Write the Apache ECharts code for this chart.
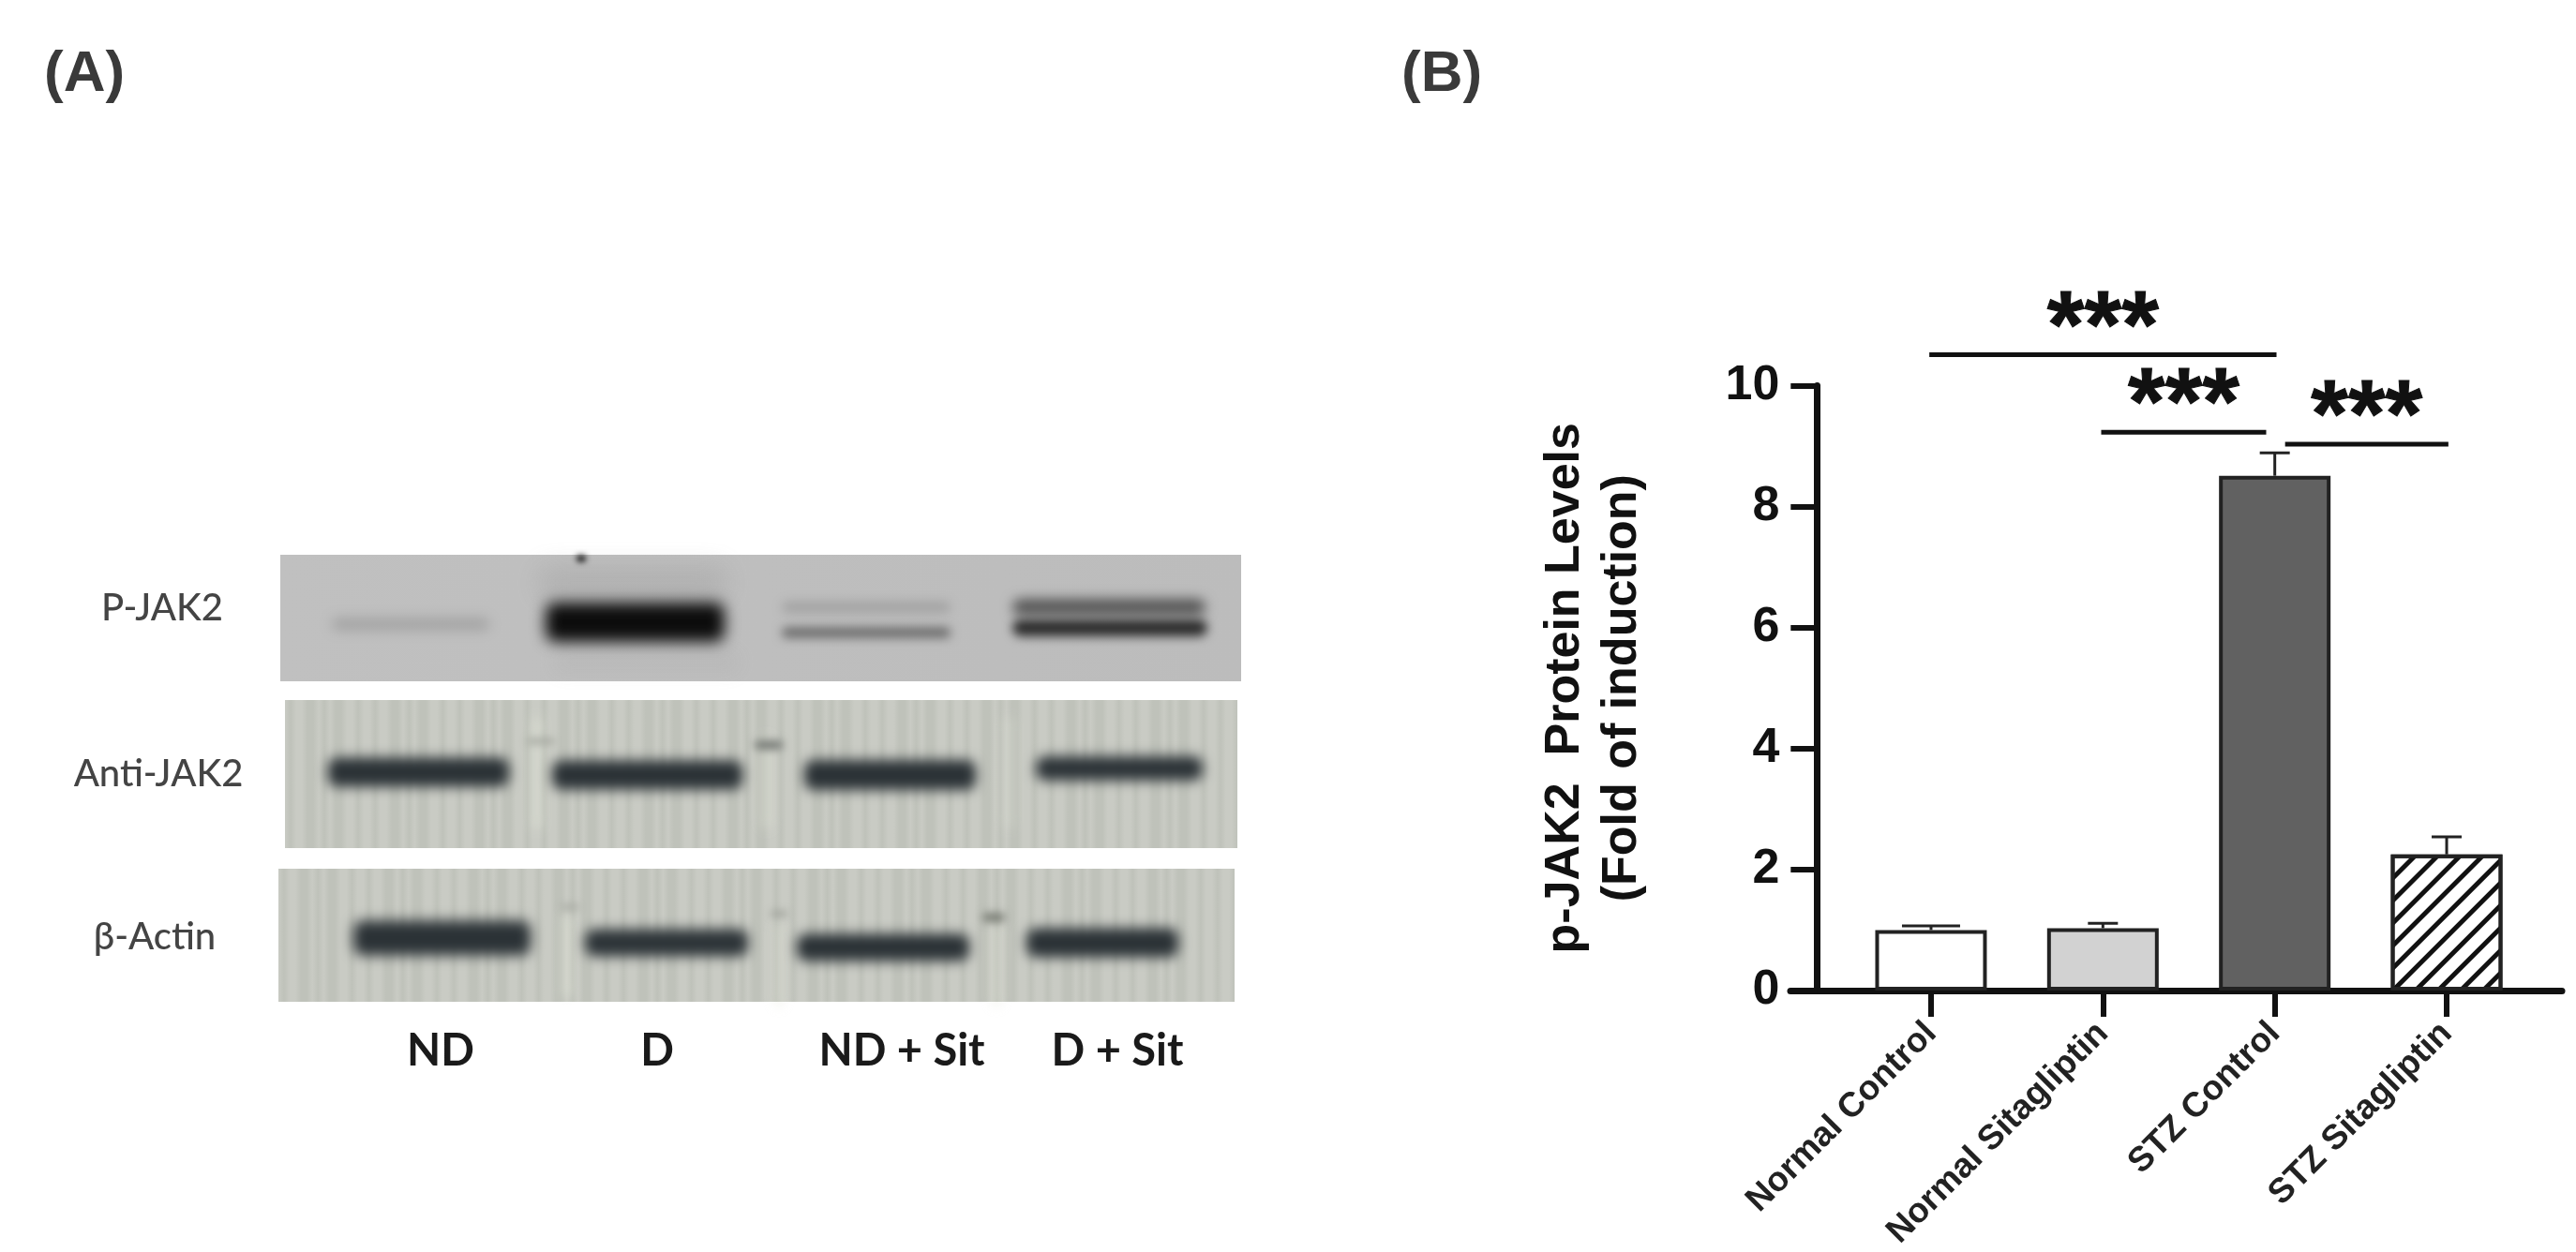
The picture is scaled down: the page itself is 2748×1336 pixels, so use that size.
<!DOCTYPE html>
<html><head><meta charset="utf-8">
<style>html,body{margin:0;padding:0;background:#fff}#c{width:2748px;height:1336px}</style>
<script src="https://cdn.jsdelivr.net/npm/echarts@6/dist/echarts.min.js"></script>
</head><body><div id="c"></div>
<script>
// ---- Panel B data ----
const categories = ['Normal Control','Normal Sitagliptin','STZ Control','STZ Sitagliptin'];
const meanValues = [1.00,1.03,8.51,2.25];
const errorTops  = [1.07,1.11,8.89,2.54];
const yTicks = [0,10];
const barFills = ['#ffffff','#d2d2d2','#616161','#ffffff'];
// significance brackets: from-category, to-category, level
const brackets = [[-0.01,2.01,10.51],[0.99,1.95,9.23],[2.06,3.01,9.03]];
const starText = '***';
const yTitle = 'p-JAK2  Protein Levels\n(Fold of induction)';
// ---- Panel A data ----
const rowLabels = ['P-JAK2','Anti-JAK2','β-Actin'];
const laneLabels = ['ND','D','ND + Sit','D + Sit'];
// membrane: x0, x1, y0, y1, tone A, tone B
const membranes = [
  [299,1324,592,727,'#c0c0c0','#bcbcbc'],
  [304,1320,747,905,'#c9cbc4','#bfc2ba'],
  [297,1317,927,1069,'#c9cbc4','#bfc2ba']
];
// bands: x0, x1, y centre, height, colour, blur
const blotBands = [
  [575,775,622,34,'rgba(130,130,130,0.5)',28],
  [590,790,706,26,'rgba(150,150,150,0.35)',20],
  [354,522,666,12,'#a0a0a0',14],
  [582,773,664,42,'#0c0c0c',16],
  [834,1014,648,12,'#a2a2a2',12],
  [834,1014,675,11,'#686868',11],
  [1080,1286,648,18,'#565656',13],
  [1080,1288,670,18,'#2c2c2c',11],
  [568,578,825,120,'rgba(228,231,218,0.7)',12],
  [812,824,835,100,'rgba(228,231,218,0.6)',12],
  [1070,1082,825,120,'rgba(228,231,218,0.5)',12],
  [350,543,824,31,'#2b3236',13],
  [589,792,827,31,'#2b3236',13],
  [858,1041,827,32,'#2b3236',13],
  [1105,1283,820,26,'#2d3438',13],
  [805,835,795,9,'#6f736f',10],
  [562,592,791,6,'#a5a8a0',9],
  [600,610,1020,90,'rgba(228,231,218,0.7)',12],
  [826,836,1030,90,'rgba(228,231,218,0.6)',12],
  [1058,1068,1030,90,'rgba(228,231,218,0.6)',12],
  [377,566,1001,37,'#2b3236',14],
  [624,798,1006,29,'#2d3438',13],
  [850,1034,1011,29,'#2b3236',13],
  [1095,1257,1006,31,'#2b3236',13],
  [1048,1072,979,9,'#74786f',10],
  [822,840,975,6,'#a0a39b',9],
  [598,618,968,6,'#a9aca4',9],
  [615,625,596,7,'#111111',6]
];
const stripeTones = [0,1,0,0,1,1,0,1,0,1,1,0,0,1,0];

const chart = echarts.init(document.getElementById('c'), null, {renderer:'canvas'});
const FONT = '"Liberation Sans", Arial, sans-serif';

function membraneFill(m, idx){
  const stops = [], n = idx === 0 ? 2 : 170;
  for (let i = 0; i < n; i++){
    stops.push({offset:i/(n-1), color: stripeTones[i % stripeTones.length] ? m[5] : m[4]});
  }
  return new echarts.graphic.LinearGradient(0,0,1,0,stops);
}

chart.setOption({
  animation:false,
  backgroundColor:'#ffffff',
  title:[
    {text:'(A)',left:42,top:44,textStyle:{fontFamily:FONT,fontWeight:'bold',fontSize:62,color:'#3a3a3a'}},
    {text:'(B)',left:1490,top:44,textStyle:{fontFamily:FONT,fontWeight:'bold',fontSize:62,color:'#3a3a3a'}}
  ],
  grid:[
    {left:1968.3,top:411.5,width:733.4,height:645.5},
    {left:1910,top:411.5,width:823,height:645.5},
    {left:0,top:0,width:1400,height:1336}
  ],
  xAxis:[
    {gridIndex:0,type:'category',data:categories,boundaryGap:true,
      axisLine:{show:false},
      axisTick:{show:true,alignWithLabel:true,length:28,lineStyle:{color:'#111',width:6}},
      axisLabel:{rotate:45,interval:0,margin:40,fontFamily:FONT,fontWeight:'bold',fontSize:37,color:'#222'}},
    {gridIndex:0,type:'value',min:-0.5,max:3.5,show:false},
    {gridIndex:1,type:'value',min:0,max:1,
      axisLine:{show:true,onZero:false,lineStyle:{color:'#111',width:7}},
      axisTick:{show:false},axisLabel:{show:false},splitLine:{show:false}},
    {gridIndex:2,type:'value',min:0,max:1400,show:false}
  ],
  yAxis:[
    {gridIndex:0,type:'value',min:yTicks[0],max:yTicks[1],interval:2,offset:30,
      name:yTitle,nameLocation:'middle',nameGap:177,nameRotate:90,nameMoveOverlap:false,
      nameTextStyle:{fontFamily:FONT,fontWeight:'bold',fontSize:52,lineHeight:61,color:'#111'},
      axisLine:{show:true,onZero:false,lineStyle:{color:'#111',width:7}},
      axisTick:{show:true,length:28,lineStyle:{color:'#111',width:6}},
      axisLabel:{margin:40,fontFamily:FONT,fontWeight:'bold',fontSize:52,color:'#111'},
      splitLine:{show:false}},
    {gridIndex:1,type:'value',min:0,max:1,show:false},
    {gridIndex:2,type:'value',min:0,max:1336,inverse:true,show:false}
  ],
  series:[
    {type:'bar',xAxisIndex:0,yAxisIndex:0,barWidth:119,z:2,
      data:meanValues.map((v,i)=>({
        value:v,
        itemStyle:{
          color:barFills[i],borderColor:'#222',borderWidth:4,
          decal: i===3 ? {symbol:'rect',dashArrayX:[1,0],dashArrayY:[5,12],rotation:-Math.PI/4,color:'#111'} : undefined
        }
      }))},
    {type:'custom',xAxisIndex:1,yAxisIndex:0,z:3,clip:false,
      data:meanValues.map((v,i)=>[i,v,errorTops[i]]),
      renderItem(params,api){
        const i=api.value(0);
        const a=api.coord([i,api.value(1)]), b=api.coord([i,api.value(2)]);
        const half = i===0 ? 31 : 16;
        const s={stroke:'#222',lineWidth:3,fill:null};
        return {type:'group',children:[
          {type:'line',shape:{x1:a[0],y1:a[1],x2:b[0],y2:b[1]},style:s},
          {type:'line',shape:{x1:b[0]-half,y1:b[1],x2:b[0]+half,y2:b[1]},style:s}
        ]};
      }},
    {type:'custom',xAxisIndex:1,yAxisIndex:0,z:4,clip:false,
      data:brackets,
      renderItem(params,api){
        const a=api.coord([api.value(0),api.value(2)]), b=api.coord([api.value(1),api.value(2)]);
        return {type:'group',children:[
          {type:'line',shape:{x1:a[0],y1:a[1],x2:b[0],y2:b[1]},style:{stroke:'#111',lineWidth:5,fill:null}},
          {type:'text',x:(a[0]+b[0])/2,y:a[1]-26,style:{text:starText,fill:'#111',stroke:'#111',lineWidth:1,align:'center',verticalAlign:'middle',
            font:'bold 102px "Liberation Sans", Arial, sans-serif'}}
        ]};
      }},
    // Panel A: membranes, bands, labels
    {type:'custom',xAxisIndex:3,yAxisIndex:2,z:1,clip:false,
      data:membranes.map(m=>[m[0],m[1],m[2],m[3]]),
      renderItem(params,api){
        const a=api.coord([api.value(0),api.value(2)]), b=api.coord([api.value(1),api.value(3)]);
        return {type:'rect',shape:{x:a[0],y:a[1],width:b[0]-a[0],height:b[1]-a[1]},
          style:{fill:membraneFill(membranes[params.dataIndex],params.dataIndex)}};
      }},
    {type:'custom',xAxisIndex:3,yAxisIndex:2,z:2,clip:false,
      data:blotBands.map(b=>[b[0],b[1],b[2],b[3]]),
      renderItem(params,api){
        const band=blotBands[params.dataIndex];
        const h=api.value(3);
        const a=api.coord([api.value(0),api.value(2)]), b=api.coord([api.value(1),api.value(2)]);
        const FAR=4000;
        return {type:'rect',shape:{x:a[0]-FAR,y:a[1]-h/2,width:b[0]-a[0],height:h,r:Math.min(h/2,10)},
          style:{fill:band[4],shadowColor:band[4],shadowBlur:band[5],shadowOffsetX:FAR,shadowOffsetY:0}};
      }},
    {type:'custom',xAxisIndex:3,yAxisIndex:2,z:3,clip:false,
      data:[[173,649],[169,826],[165,1000]],
      renderItem(params,api){
        const p=api.coord([api.value(0),api.value(1)]);
        return {type:'text',x:p[0],y:p[1],style:{text:rowLabels[params.dataIndex],fill:'#444',align:'center',verticalAlign:'middle',
          font:'500 40px Lato, sans-serif'}};
      }},
    {type:'custom',xAxisIndex:3,yAxisIndex:2,z:3,clip:false,
      data:[[470,1122],[701,1122],[962,1122],[1192,1122]],
      renderItem(params,api){
        const p=api.coord([api.value(0),api.value(1)]);
        return {type:'text',x:p[0],y:p[1],style:{text:laneLabels[params.dataIndex],fill:'#1a1a1a',align:'center',verticalAlign:'middle',
          font:'bold 47px Lato, sans-serif'}};
      }}
  ]
});
</script></body></html>
